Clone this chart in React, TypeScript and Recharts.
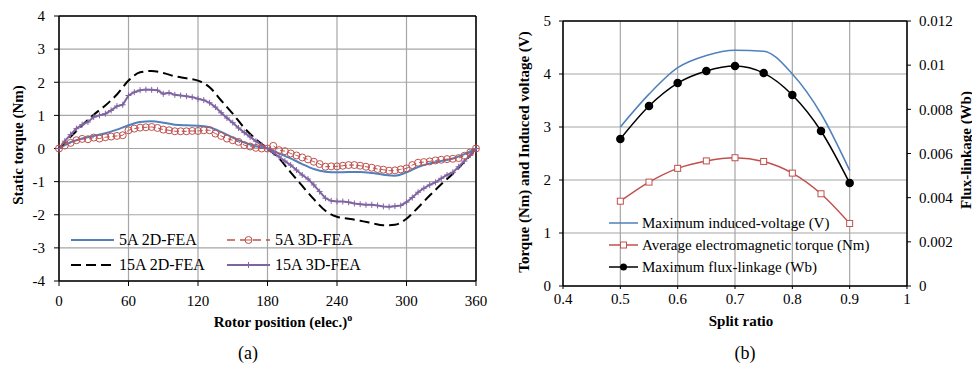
import { LineChart, Line, XAxis, YAxis, CartesianGrid, Legend, ReferenceLine } from "recharts"

const FONT = "'Liberation Serif', 'Times New Roman', serif"

// (a) static torque vs rotor position
const angles2D = [0, 10, 20, 30, 40, 50, 60, 70, 80, 90, 100, 110, 120, 130, 140, 150, 160, 170, 180, 190, 200, 210, 220, 230, 240, 250, 260, 270, 280, 290, 300, 310, 320, 330, 340, 350, 360]
const angles3D = [0, 5, 10, 15, 20, 25, 30, 35, 40, 45, 50, 55, 60, 65, 70, 75, 80, 85, 90, 95, 100, 105, 110, 115, 120, 125, 130, 135, 140, 145, 150, 155, 160, 165, 170, 175, 180, 185, 190, 195, 200, 205, 210, 215, 220, 225, 230, 235, 240, 245, 250, 255, 260, 265, 270, 275, 280, 285, 290, 295, 300, 305, 310, 315, 320, 325, 330, 335, 340, 345, 350, 355, 360]

const torque5A2D = [0, 0.19, 0.3, 0.38, 0.46, 0.57, 0.7, 0.8, 0.82, 0.78, 0.72, 0.7, 0.69, 0.64, 0.5, 0.33, 0.18, 0.07, 0, -0.15, -0.3, -0.47, -0.62, -0.7, -0.72, -0.71, -0.71, -0.74, -0.79, -0.82, -0.72, -0.56, -0.45, -0.38, -0.3, -0.17, 0]
const torque15A2D = [0, 0.35, 0.7, 1.02, 1.3, 1.63, 2.05, 2.3, 2.34, 2.28, 2.18, 2.12, 2.05, 1.85, 1.45, 1.05, 0.62, 0.28, 0, -0.3, -0.72, -1.13, -1.53, -1.88, -2.06, -2.12, -2.18, -2.25, -2.32, -2.3, -2.12, -1.78, -1.42, -1.08, -0.76, -0.4, 0]
const torque5A3D = [0, 0.09, 0.17, 0.25, 0.29, 0.28, 0.33, 0.3, 0.34, 0.36, 0.38, 0.4, 0.55, 0.6, 0.63, 0.64, 0.65, 0.62, 0.57, 0.55, 0.52, 0.52, 0.52, 0.53, 0.53, 0.55, 0.55, 0.45, 0.38, 0.3, 0.25, 0.2, 0.1, 0.06, 0.02, 0, 0, 0.08, -0.05, -0.08, -0.15, -0.21, -0.27, -0.33, -0.4, -0.47, -0.55, -0.54, -0.54, -0.52, -0.5, -0.5, -0.52, -0.55, -0.58, -0.62, -0.64, -0.67, -0.66, -0.63, -0.6, -0.5, -0.43, -0.41, -0.39, -0.36, -0.34, -0.32, -0.31, -0.29, -0.22, -0.12, 0]
const torque15A3D = [0, 0.22, 0.42, 0.6, 0.72, 0.8, 0.95, 1.0, 1.05, 1.15, 1.28, 1.32, 1.6, 1.7, 1.76, 1.78, 1.77, 1.76, 1.65, 1.68, 1.62, 1.6, 1.58, 1.55, 1.5, 1.46, 1.38, 1.25, 1.08, 0.92, 0.78, 0.62, 0.48, 0.35, 0.22, 0.1, 0, -0.12, -0.25, -0.38, -0.5, -0.65, -0.8, -0.92, -1.1, -1.3, -1.5, -1.58, -1.6, -1.6, -1.62, -1.66, -1.68, -1.7, -1.7, -1.72, -1.75, -1.76, -1.74, -1.72, -1.62, -1.48, -1.32, -1.2, -1.1, -1.02, -0.9, -0.8, -0.72, -0.55, -0.38, -0.2, 0]

const torqueSeries = ["5A 2D-FEA", "5A 3D-FEA", "15A 2D-FEA", "15A 3D-FEA"]
const angleTicks = [0, 60, 120, 180, 240, 300, 360]
const torqueTicks = [-4, -3, -2, -1, 0, 1, 2, 3, 4]

// (b) split ratio study
const splitRatio = [0.5, 0.55, 0.6, 0.65, 0.7, 0.75, 0.8, 0.85, 0.9]
const inducedVoltage = [3.0, 3.62, 4.12, 4.35, 4.45, 4.43, 4.0, 3.25, 2.18]
const avgTorque = [1.6, 1.96, 2.22, 2.36, 2.42, 2.35, 2.13, 1.74, 1.18]
const fluxLinkage = [0.00666, 0.00815, 0.00919, 0.00974, 0.00996, 0.00964, 0.00865, 0.00702, 0.00466]

const splitSeries = ["Maximum induced-voltage (V)", "Average electromagnetic torque (Nm)", "Maximum flux-linkage (Wb)"]
const splitTicks = [0.4, 0.5, 0.6, 0.7, 0.8, 0.9, 1]
const leftTicks = [0, 1, 2, 3, 4, 5]
const fluxTicks = [0, 0.002, 0.004, 0.006, 0.008, 0.01, 0.012]

const data5A2D = angles2D.map((a, i) => ({ angle: a, value: torque5A2D[i] }))
const data15A2D = angles2D.map((a, i) => ({ angle: a, value: torque15A2D[i] }))
const data5A3D = angles3D.map((a, i) => ({ angle: a, value: torque5A3D[i] }))
const data15A3D = angles3D.map((a, i) => ({ angle: a, value: torque15A3D[i] }))

const splitData = splitRatio.map((s, i) => ({
  split: s,
  voltage: inducedVoltage[i],
  torque: avgTorque[i],
  flux: fluxLinkage[i],
}))

const BLUE = "#4f81bd"
const RED = "#c0504d"
const PURPLE = "#8064a2"
const GRID = "#a6a6a6"

const tickStyle = { fill: "#000", fontSize: 15, fontFamily: FONT }

const PlusDot = (props: any) => {
  const { cx, cy, index } = props
  if (cx == null || cy == null) return <g key={`pd-${index}`} />
  return (
    <path
      key={`pd-${index}`}
      d={`M${cx - 3},${cy}H${cx + 3}M${cx},${cy - 3}V${cy + 3}`}
      stroke={PURPLE}
      strokeWidth={1}
      fill="none"
    />
  )
}

const SquareDot = (props: any) => {
  const { cx, cy, index } = props
  if (cx == null || cy == null) return <g key={`sq-${index}`} />
  return <rect key={`sq-${index}`} x={cx - 3} y={cy - 3} width={6} height={6} fill="#fff" stroke={RED} strokeWidth={1} />
}

function torqueIcon(name: string) {
  if (name === "5A 2D-FEA") return <line x1={0} y1={6} x2={43} y2={6} stroke={BLUE} strokeWidth={2} />
  if (name === "5A 3D-FEA")
    return (
      <g>
        <line x1={0} y1={6} x2={43} y2={6} stroke={RED} strokeWidth={1.5} strokeDasharray="8 5" />
        <circle cx={21.5} cy={6} r={3.5} fill="#fff" stroke={RED} strokeWidth={1} />
        <line x1={18} y1={6} x2={25} y2={6} stroke={RED} strokeWidth={1} />
      </g>
    )
  if (name === "15A 2D-FEA") return <line x1={0} y1={6} x2={43} y2={6} stroke="#000" strokeWidth={2} strokeDasharray="10 5" />
  return (
    <g>
      <line x1={0} y1={6} x2={43} y2={6} stroke={PURPLE} strokeWidth={2} />
      <path d="M18.5,6H24.5M21.5,3V9" stroke={PURPLE} strokeWidth={1} />
    </g>
  )
}

const byOrder = (order: string[]) => (a: any, b: any) => order.indexOf(a.value) - order.indexOf(b.value)

const renderTorqueLegend = (props: any) => {
  const items = [...(props.payload || [])].sort(byOrder(torqueSeries))
  return (
    <div style={{ display: "grid", gridTemplateColumns: "156px 170px", fontFamily: FONT, fontSize: 16, color: "#000" }}>
      {items.map((entry: any) => (
        <div key={entry.value} style={{ display: "flex", alignItems: "center", height: 25 }}>
          <svg width={43} height={12}>{torqueIcon(entry.value)}</svg>
          <span style={{ marginLeft: 5, whiteSpace: "nowrap" }}>{entry.value}</span>
        </div>
      ))}
    </div>
  )
}

function splitIcon(name: string) {
  if (name === splitSeries[0]) return <line x1={0} y1={6} x2={29} y2={6} stroke={BLUE} strokeWidth={1.5} />
  if (name === splitSeries[1])
    return (
      <g>
        <line x1={0} y1={6} x2={29} y2={6} stroke={RED} strokeWidth={1.5} />
        <rect x={11.5} y={3} width={6} height={6} fill="#fff" stroke={RED} strokeWidth={1} />
      </g>
    )
  return (
    <g>
      <line x1={0} y1={6} x2={29} y2={6} stroke="#000" strokeWidth={1.5} />
      <circle cx={14.5} cy={6} r={3.5} fill="#000" />
    </g>
  )
}

const renderSplitLegend = (props: any) => {
  const items = [...(props.payload || [])].sort(byOrder(splitSeries))
  return (
    <div style={{ fontFamily: FONT, fontSize: 15, color: "#000" }}>
      {items.map((entry: any) => (
        <div key={entry.value} style={{ display: "flex", alignItems: "center", height: 22 }}>
          <svg width={29} height={12}>{splitIcon(entry.value)}</svg>
          <span style={{ marginLeft: 4, whiteSpace: "nowrap" }}>{entry.value}</span>
        </div>
      ))}
    </div>
  )
}

const textBase: React.CSSProperties = {
  position: "absolute",
  fontFamily: FONT,
  color: "#000",
  whiteSpace: "nowrap",
  transform: "translate(-50%, -50%)",
}

function TorqueChart() {
  return (
    <LineChart width={490} height={369} margin={{ top: 16, right: 14, bottom: 58, left: 0 }}>
      <CartesianGrid stroke={GRID} strokeWidth={1.2} />
      <XAxis
        dataKey="angle"
        type="number"
        domain={[0, 360]}
        ticks={angleTicks}
        height={30}
        tick={tickStyle}
        tickSize={5}
        tickMargin={9}
        axisLine={{ stroke: "#000", strokeWidth: 1.5 }}
        tickLine={{ stroke: "#000" }}
        allowDuplicatedCategory={false}
      />
      <YAxis
        type="number"
        domain={[-4, 4]}
        ticks={torqueTicks}
        width={59}
        tick={tickStyle}
        tickSize={5}
        tickMargin={9}
        axisLine={{ stroke: "#000", strokeWidth: 1.5 }}
        tickLine={{ stroke: "#000" }}
      />
      <ReferenceLine y={4} stroke="#000" strokeWidth={1.5} />
      <ReferenceLine x={360} stroke="#000" strokeWidth={1.5} />
      <Legend
        layout="vertical"
        align="center"
        verticalAlign="middle"
        content={renderTorqueLegend}
        wrapperStyle={{ left: 71, top: 227, width: 330 }}
      />
      <Line
        data={data5A2D}
        dataKey="value"
        name={torqueSeries[0]}
        type="monotone"
        stroke={BLUE}
        strokeWidth={2}
        dot={false}
        isAnimationActive={false}
      />
      <Line
        data={data15A2D}
        dataKey="value"
        name={torqueSeries[2]}
        type="monotone"
        stroke="#000"
        strokeWidth={2}
        strokeDasharray="10 5"
        dot={false}
        isAnimationActive={false}
      />
      <Line
        data={data15A3D}
        dataKey="value"
        name={torqueSeries[3]}
        type="linear"
        stroke={PURPLE}
        strokeWidth={2}
        dot={(p: any) => <PlusDot key={`pd-${p.index}`} {...p} />}
        isAnimationActive={false}
      />
      <Line
        data={data5A3D}
        dataKey="value"
        name={torqueSeries[1]}
        type="linear"
        stroke={RED}
        strokeWidth={1}
        strokeDasharray="5 3"
        dot={{ r: 3.5, fill: "none", stroke: RED, strokeWidth: 1, strokeDasharray: "none" }}
        isAnimationActive={false}
      />
    </LineChart>
  )
}

function SplitChart() {
  return (
    <LineChart data={splitData} width={492} height={369} margin={{ top: 21, right: 15, bottom: 53, left: 0 }}>
      <CartesianGrid stroke={GRID} strokeWidth={1.2} yAxisId="left" />
      <XAxis
        dataKey="split"
        type="number"
        domain={[0.4, 1]}
        ticks={splitTicks}
        height={30}
        tick={tickStyle}
        tickSize={3}
        tickMargin={4}
        axisLine={{ stroke: "#000", strokeWidth: 1.5 }}
        tickLine={{ stroke: "#000" }}
      />
      <YAxis
        yAxisId="left"
        type="number"
        domain={[0, 5]}
        ticks={leftTicks}
        width={83}
        tick={tickStyle}
        tickSize={4}
        tickMargin={8}
        axisLine={{ stroke: "#000", strokeWidth: 1.5 }}
        tickLine={{ stroke: "#000" }}
      />
      <YAxis
        yAxisId="right"
        orientation="right"
        type="number"
        domain={[0, 0.012]}
        ticks={fluxTicks}
        width={50}
        tick={tickStyle}
        tickSize={4}
        tickMargin={8}
        axisLine={{ stroke: "#000", strokeWidth: 1.5 }}
        tickLine={{ stroke: "#000" }}
      />
      <ReferenceLine yAxisId="left" y={5} stroke="#000" strokeWidth={1.5} />
      <Legend
        layout="vertical"
        align="center"
        verticalAlign="middle"
        content={renderSplitLegend}
        wrapperStyle={{ left: 129, top: 212, width: 300 }}
      />
      <Line
        yAxisId="left"
        dataKey="voltage"
        name={splitSeries[0]}
        type="monotone"
        stroke={BLUE}
        strokeWidth={1.5}
        dot={false}
        isAnimationActive={false}
      />
      <Line
        yAxisId="left"
        dataKey="torque"
        name={splitSeries[1]}
        type="monotone"
        stroke={RED}
        strokeWidth={1.5}
        dot={(p: any) => <SquareDot key={`sq-${p.index}`} {...p} />}
        isAnimationActive={false}
      />
      <Line
        yAxisId="right"
        dataKey="flux"
        name={splitSeries[2]}
        type="monotone"
        stroke="#000"
        strokeWidth={1.5}
        dot={{ r: 3.5, fill: "#000", stroke: "#000" }}
        isAnimationActive={false}
      />
    </LineChart>
  )
}

export default function App() {
  return (
    <div style={{ position: "absolute", left: 0, top: 0, width: 972, height: 369, background: "#fff", overflow: "hidden" }}>
      <div style={{ position: "absolute", left: 0, top: 0 }}>
        <TorqueChart />
      </div>
      <div style={{ position: "absolute", left: 480, top: 0 }}>
        <SplitChart />
      </div>

      <div style={{ ...textBase, left: 18, top: 145, fontSize: 15, fontWeight: "bold", transform: "translate(-50%, -50%) rotate(-90deg)" }}>
        Static torque (Nm)
      </div>
      <div style={{ ...textBase, left: 283, top: 321, fontSize: 15, fontWeight: "bold" }}>
        Rotor position (elec.)<span style={{ fontSize: 10, verticalAlign: "super" }}>o</span>
      </div>
      <div style={{ ...textBase, left: 248, top: 353, fontSize: 18 }}>(a)</div>

      <div style={{ ...textBase, left: 524, top: 152, fontSize: 15, fontWeight: "bold", transform: "translate(-50%, -50%) rotate(-90deg)" }}>
        Torque (Nm) and Induced voltage (V)
      </div>
      <div style={{ ...textBase, left: 966, top: 150, fontSize: 15, fontWeight: "bold", transform: "translate(-50%, -50%) rotate(-90deg)" }}>
        Flux-linkage (Wb)
      </div>
      <div style={{ ...textBase, left: 741, top: 321, fontSize: 15, fontWeight: "bold" }}>Split ratio</div>
      <div style={{ ...textBase, left: 745, top: 353, fontSize: 18 }}>(b)</div>
    </div>
  )
}
